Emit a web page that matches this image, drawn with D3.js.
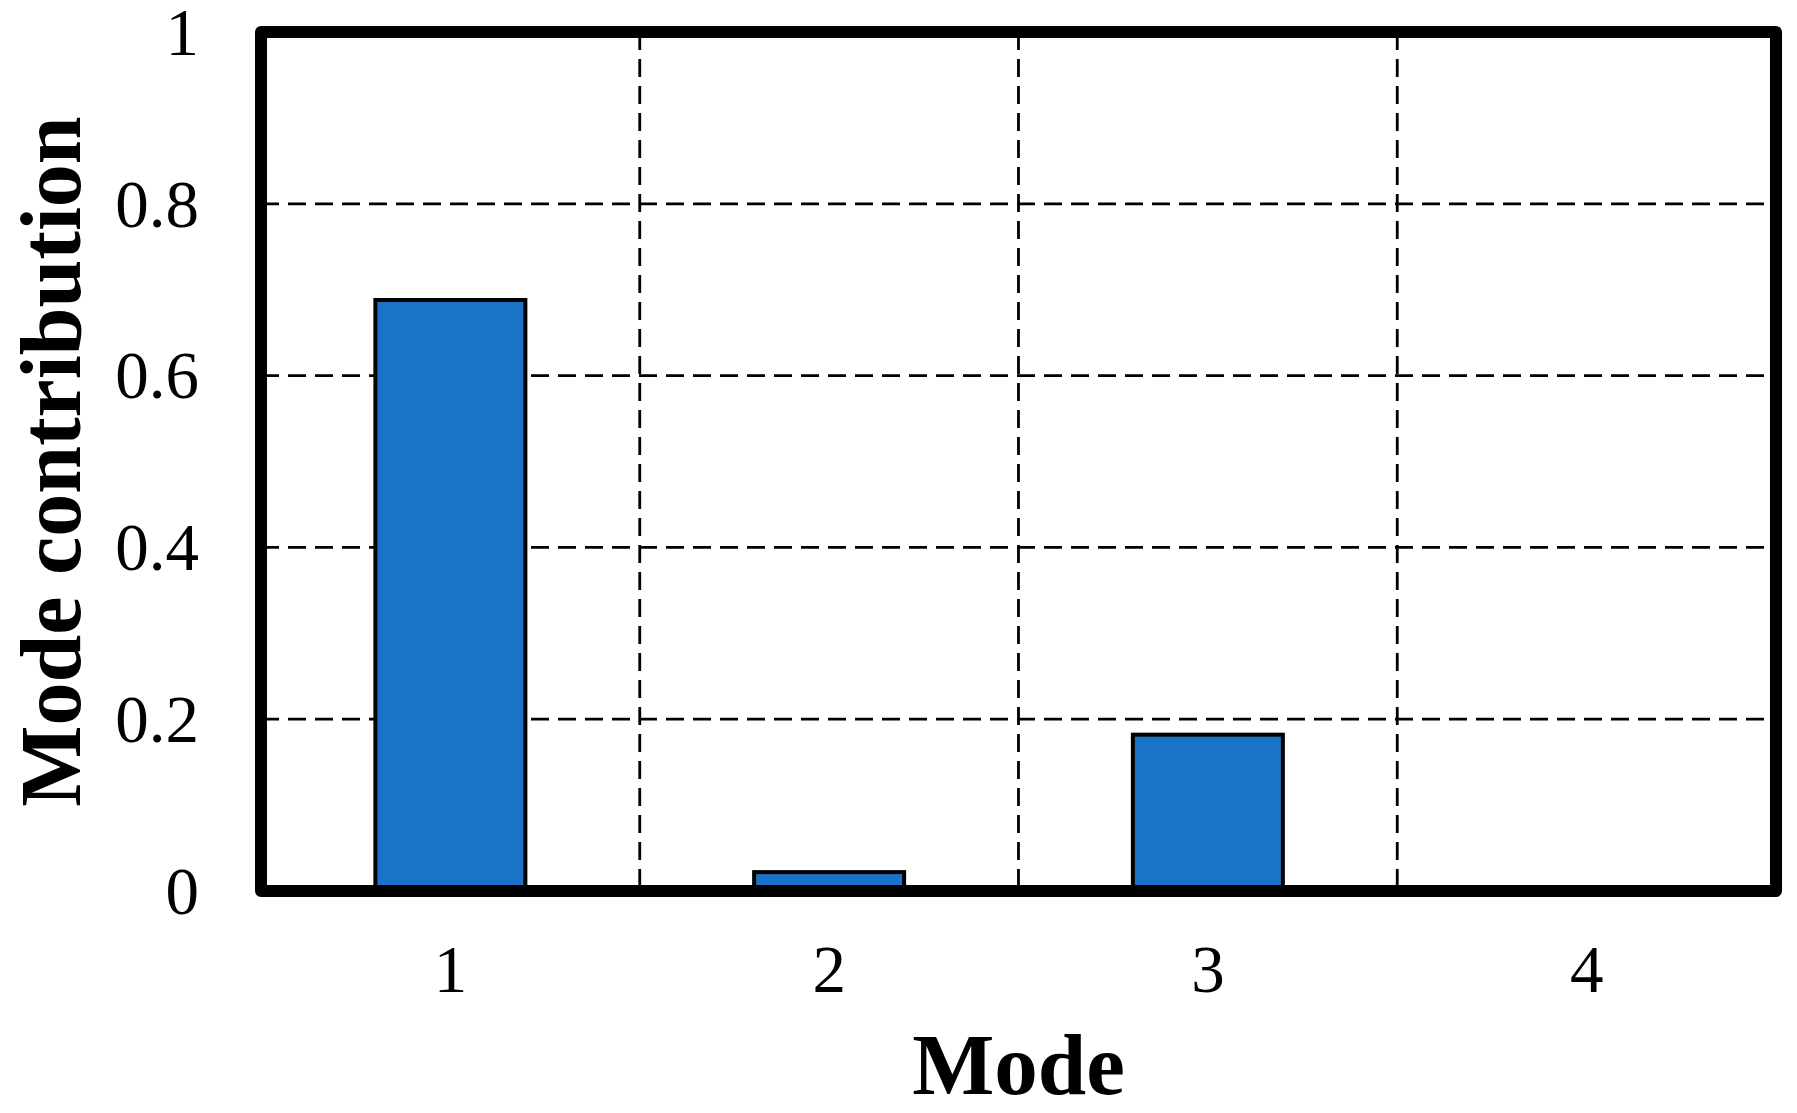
<!DOCTYPE html>
<html>
<head>
<meta charset="utf-8">
<script src="https://cdn.jsdelivr.net/npm/d3@7"></script>
<style>
  html, body { margin: 0; padding: 0; background: #fff; }
  svg { display: block; }
  text { font-family: "Liberation Serif", "Times New Roman", serif; fill: #000; }
</style>
</head>
<body>
<svg id="chart" width="1797" height="1113"></svg>
<script>
const categories = ["1", "2", "3", "4"];
const values = [0.688, 0.022, 0.182, 0];
const yTicks = [0, 0.2, 0.4, 0.6, 0.8, 1];
const yTickLabels = ["0", "0.2", "0.4", "0.6", "0.8", "1"];
const xTitle = "Mode";
const yTitle = "Mode contribution";

const W = 1797, H = 1113;
const plot = { left: 261, right: 1776, top: 32, bottom: 891 };
const svg = d3.select("#chart");

const x = d3.scaleBand().domain(categories).range([plot.left, plot.right]).padding(0);
const y = d3.scaleLinear().domain([0, 1]).range([plot.bottom, plot.top]);

// horizontal grid
svg.append("g").selectAll("line")
  .data(yTicks.filter(t => t > 0 && t < 1))
  .join("line")
  .attr("x1", plot.left).attr("x2", plot.right)
  .attr("y1", d => y(d)).attr("y2", d => y(d))
  .attr("stroke", "#000").attr("stroke-width", 2.8)
  .attr("stroke-dasharray", "18,9");

// vertical grid at category boundaries
svg.append("g").selectAll("line")
  .data(categories.slice(1))
  .join("line")
  .attr("x1", d => x(d)).attr("x2", d => x(d))
  .attr("y1", plot.top).attr("y2", plot.bottom)
  .attr("stroke", "#000").attr("stroke-width", 2.8)
  .attr("stroke-dasharray", "18,9");

// bars
const barFrac = 0.396;
svg.append("g").selectAll("rect")
  .data(categories.map((c, i) => ({ c, v: values[i] })).filter(d => d.v > 0))
  .join("rect")
  .attr("x", d => x(d.c) + x.bandwidth() * (1 - barFrac) / 2)
  .attr("width", x.bandwidth() * barFrac)
  .attr("y", d => y(d.v))
  .attr("height", d => y(0) - y(d.v))
  .attr("fill", "#1a73c8")
  .attr("stroke", "#000")
  .attr("stroke-width", 4);

// frame
svg.append("rect")
  .attr("x", plot.left).attr("y", plot.top)
  .attr("width", plot.right - plot.left).attr("height", plot.bottom - plot.top)
  .attr("fill", "none").attr("stroke", "#000").attr("stroke-width", 12)
  .attr("stroke-linejoin", "round");

// y tick labels
svg.append("g").selectAll("text")
  .data(yTicks)
  .join("text")
  .attr("x", 199)
  .attr("y", d => y(d))
  .attr("dy", "0.34em")
  .attr("text-anchor", "end")
  .attr("font-size", 67)
  .text((d, i) => yTickLabels[i]);

// x tick labels
svg.append("g").selectAll("text")
  .data(categories)
  .join("text")
  .attr("x", d => x(d) + x.bandwidth() / 2)
  .attr("y", 992)
  .attr("text-anchor", "middle")
  .attr("font-size", 67)
  .text(d => d);

// axis titles
svg.append("text")
  .attr("x", (plot.left + plot.right) / 2)
  .attr("y", 1094)
  .attr("text-anchor", "middle")
  .attr("font-size", 87)
  .attr("font-weight", "bold")
  .text(xTitle);

svg.append("text")
  .attr("transform", `translate(80,${(plot.top + plot.bottom) / 2}) rotate(-90)`)
  .attr("text-anchor", "middle")
  .attr("font-size", 86)
  .attr("font-weight", "bold")
  .text(yTitle);
</script>
</body>
</html>
